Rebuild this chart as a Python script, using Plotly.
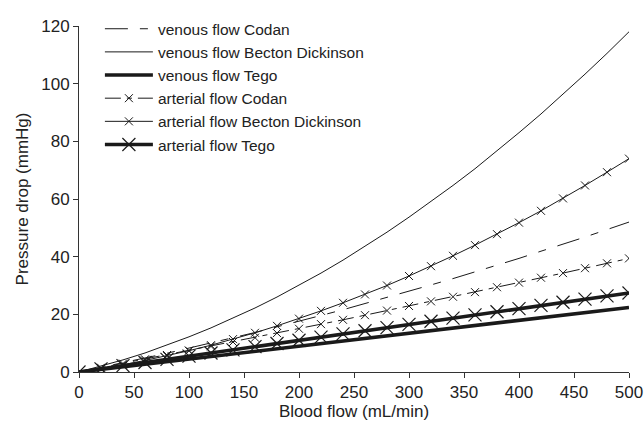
import plotly.graph_objects as go

flow = [0, 20, 40, 60, 80, 100, 120, 140, 160, 180, 200, 220, 240, 260, 280,
        300, 320, 340, 360, 380, 400, 420, 440, 460, 480, 500]

venous_codan = [0, 1.6, 3.2, 4.8, 6.5, 8.3, 10.0, 11.9, 13.7, 15.6, 17.6, 19.6, 21.6,
                23.7, 25.8, 28.0, 30.2, 32.4, 34.7, 37.1, 39.4, 41.9, 44.3, 46.8, 49.4, 52.0]
venous_bd = [0, 2.0, 4.2, 6.6, 9.3, 12.2, 15.3, 18.7, 22.2, 26.0, 30.1, 34.3, 38.8,
             43.6, 48.5, 53.7, 59.1, 64.7, 70.5, 76.7, 83.0, 89.5, 96.3, 103.3, 110.5, 118.0]
venous_tego = [0, 0.9, 1.8, 2.7, 3.6, 4.5, 5.4, 6.3, 7.2, 8.1, 9.0, 9.9, 10.8, 11.7,
               12.6, 13.5, 14.4, 15.3, 16.2, 17.1, 18.0, 18.9, 19.8, 20.7, 21.6, 22.4]
arterial_codan = [0, 1.5, 2.9, 4.4, 5.9, 7.4, 8.9, 10.4, 11.9, 13.5, 15.0, 16.6, 18.1,
                  19.7, 21.3, 22.9, 24.5, 26.1, 27.7, 29.4, 31.0, 32.7, 34.3, 36.0, 37.7, 39.4]
arterial_bd = [0, 1.2, 2.5, 4.0, 5.6, 7.4, 9.3, 11.4, 13.6, 16.0, 18.5, 21.2, 24.0,
               26.9, 30.0, 33.3, 36.7, 40.3, 44.0, 47.8, 51.8, 55.9, 60.2, 64.7, 69.3, 74.0]
arterial_tego = [0, 1.1, 2.2, 3.3, 4.4, 5.5, 6.6, 7.7, 8.8, 9.9, 11.0, 12.1, 13.2, 14.3,
                 15.4, 16.5, 17.6, 18.7, 19.8, 20.9, 22.0, 23.1, 24.2, 25.3, 26.4, 27.4]

x_ticks = [0, 50, 100, 150, 200, 250, 300, 350, 400, 450, 500]
y_ticks = [0, 20, 40, 60, 80, 100, 120]

fig = go.Figure()
black = "#1a1a1a"
fig.add_trace(go.Scatter(x=flow, y=venous_codan, mode="lines", name="venous flow Codan",
                         line=dict(color=black, width=1, dash="23px,12px,8px,12px")))
fig.add_trace(go.Scatter(x=flow, y=venous_bd, mode="lines", name="venous flow Becton Dickinson",
                         line=dict(color=black, width=1)))
fig.add_trace(go.Scatter(x=flow, y=venous_tego, mode="lines", name="venous flow Tego",
                         line=dict(color=black, width=3.5)))
fig.add_trace(go.Scatter(x=flow, y=arterial_codan, mode="lines+markers", name="arterial flow Codan",
                         line=dict(color=black, width=1, dash="16px,6px,5px,6px"),
                         marker=dict(symbol="x-thin-open", size=8, color=black,
                                     line=dict(width=1, color=black))))
fig.add_trace(go.Scatter(x=flow, y=arterial_bd, mode="lines+markers", name="arterial flow Becton Dickinson",
                         line=dict(color=black, width=1),
                         marker=dict(symbol="x-thin-open", size=8, color=black,
                                     line=dict(width=1, color=black))))
fig.add_trace(go.Scatter(x=flow, y=arterial_tego, mode="lines+markers", name="arterial flow Tego",
                         line=dict(color=black, width=3.5),
                         marker=dict(symbol="x-thin-open", size=13, color=black,
                                     line=dict(width=1.2, color=black))))

axis_common = dict(showgrid=False, zeroline=False, showline=True, linecolor="#333",
                   linewidth=1, ticks="outside", ticklen=5, tickcolor="#333",
                   tickfont=dict(size=17, color="#222"), automargin=False)
fig.update_layout(
    width=644, height=433,
    margin=dict(l=79, r=15, t=19, b=61),
    paper_bgcolor="white", plot_bgcolor="white",
    font=dict(family="Liberation Sans, Arial, sans-serif", color="#222", size=17),
    showlegend=True,
    legend=dict(x=0.038, y=1.04, xanchor="left", yanchor="top",
                bgcolor="rgba(0,0,0,0)", font=dict(size=15.5, color="#222"),
                itemwidth=48),
    xaxis=dict(range=[0, 500], tickvals=x_ticks,
               title=dict(text="Blood flow (mL/min)", font=dict(size=17, color="#222"), standoff=0),
               **axis_common),
    yaxis=dict(range=[0, 120], tickvals=y_ticks,
               title=dict(text="Pressure drop (mmHg)", font=dict(size=17, color="#222"), standoff=8),
               **axis_common),
)
fig.write_html(
    "out.html",
    config={"displayModeBar": False},
    post_script="document.body.style.margin='0px';document.body.style.overflow='hidden';",
)
